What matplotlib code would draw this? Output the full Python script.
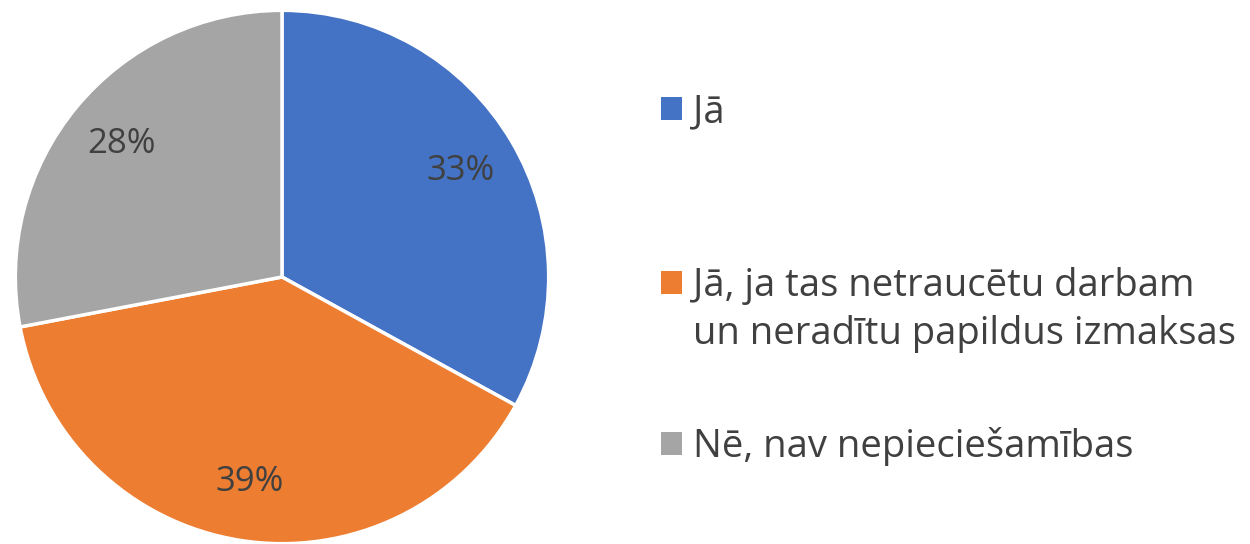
import matplotlib
matplotlib.use("Agg")
from matplotlib import pyplot as plt
from matplotlib.patches import Patch

# Data
labels = ["Jā", "Jā, ja tas netraucētu darbam\nun neradītu papildus izmaksas", "Nē, nav nepieciešamības"]
shares = [33, 39, 28]
colors = ["#4472C4", "#ED7D31", "#A5A5A5"]

plt.rcParams['font.family'] = ['Open Sans', 'DejaVu Sans']

fig = plt.figure(figsize=(12.5, 5.44), dpi=100)
ax = fig.add_axes([14 / 1250, -1 / 544, 536 / 1250, 536 / 544])

wedges, texts, autotexts = ax.pie(
    shares, colors=colors, startangle=90, counterclock=False,
    autopct='%d%%', pctdistance=0.78,
    wedgeprops=dict(edgecolor='white', linewidth=2.5),
    textprops=dict(color='#404040', fontsize=25))
ax.set_xlim(-1.005, 1.005)
ax.set_ylim(-1.005, 1.005)
ax.set_aspect('equal')
ax.axis('off')

# one legend box per entry; the marker sits by the first line of the label,
# the rest of a wrapped label goes below it as plain text
legend_y = [112, 286, 447]
line_gap = 48
fig.canvas.draw()
for lab, col, y in zip(labels, colors, legend_y):
    first, *rest = lab.split("\n")
    leg = fig.legend(handles=[Patch(facecolor=col, edgecolor='none')], labels=[first],
                     loc='center left', bbox_to_anchor=(661 / 1250, 1 - y / 544),
                     frameon=False, fontsize=27.5, labelcolor='#404040',
                     handlelength=0.55, handleheight=0.55, handletextpad=0.28,
                     borderpad=0, borderaxespad=0)
    if rest:
        fig.canvas.draw()
        bb = leg.get_texts()[0].get_window_extent()
        for i, line in enumerate(rest, start=1):
            fig.text(bb.x0 / 1250, 1 - (y + i * line_gap) / 544, line,
                     fontsize=27.5, color='#404040', ha='left', va='center')

fig.savefig("out.png", dpi=100)
